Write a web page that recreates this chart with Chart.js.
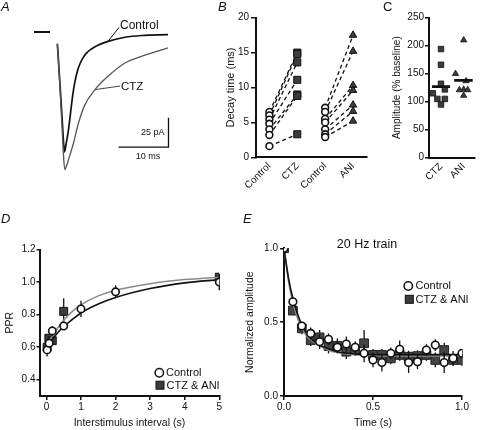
<!DOCTYPE html>
<html><head><meta charset="utf-8">
<script src="https://cdn.jsdelivr.net/npm/chart.js@4.4.1/dist/chart.umd.min.js"></script>
<style>
html,body{margin:0;padding:0;background:#fff;}
#wrap{position:relative;width:480px;height:430px;overflow:hidden;background:#fff;}
#wrap canvas{position:absolute;left:0;top:0;}
</style></head><body>
<div id="wrap">
<canvas id="cA" width="480" height="430"></canvas>
<canvas id="cB" width="480" height="430"></canvas>
<canvas id="cC" width="480" height="430"></canvas>
<canvas id="cD" width="480" height="430"></canvas>
<canvas id="cE" width="480" height="430"></canvas>
</div>
<script>
// ---------- Panel A: example currents (time in ms, amplitude in pA) ----------
const A_time_control = [-0.13, 0.3, 0.8, 1.1, 1.3, 1.55, 2.1, 2.7, 3.0, 3.4, 3.9, 4.4, 5.0, 5.7, 6.5, 7.4, 8.5, 10, 13.4, 16.7, 22];
const A_amp_control  = [-10, -38, -72, -93, -102, -97, -83, -62, -52, -42, -33, -27, -22, -18, -15, -12.5, -10.3, -8, -4.5, -3, -2.3];
const A_time_ctz = [-0.13, 0.3, 0.8, 1.1, 1.35, 1.7, 2.1, 3.1, 4.1, 5.4, 7.4, 10, 13.4, 16.7, 22];
const A_amp_ctz  = [-10, -40, -80, -105, -117, -114, -108.6, -94.4, -77.4, -61.8, -49, -37.7, -26.4, -20.7, -13.6];
const A_baseline_time = [-4.8, -1.6];
const A_baseline_amp = [0, 0];
const A_scale_ms = 10;
const A_scale_pA = 25;

// ---------- Panel B: decay time (ms) ----------
const B_categories = ['Control', 'CTZ', 'Control', 'ANI'];
const B_ctz_control = [6.5, 6.0, 5.4, 4.8, 4.0, 3.2, 1.6];
const B_ctz_treated = [15.0, 14.8, 13.6, 11.1, 9.0, 8.8, 3.3];
const B_ani_control = [7.1, 6.5, 5.5, 5.0, 4.0, 3.3, 2.9];
const B_ani_treated = [17.5, 15.2, 10.3, 9.6, 7.5, 6.6, 5.2];
const B_yTicks = [0, 5, 10, 15, 20];

// ---------- Panel C: amplitude (% baseline) ----------
const C_categories = ['CTZ', 'ANI'];
const C_ctz = [194, 166, 132, 122, 115, 105, 105, 95];
const C_ctz_jitter = [0, 0, 0, 0.17, -0.36, -0.16, 0.17, 0];
const C_ani = [210, 150, 137, 122, 121, 121, 111];
const C_ani_jitter = [0, -0.36, 0.11, 0, -0.19, 0.18, 0];
const C_means = [127, 138];
const C_yTicks = [0, 50, 100, 150, 200, 250];

// ---------- Panel D: paired-pulse ratio ----------
const D_control_x = [0.02, 0.08, 0.17, 0.5, 1, 2, 5];
const D_control_y = [0.583, 0.624, 0.70, 0.73, 0.835, 0.94, 1.0];
const D_control_err = [0.04, 0.02, 0.03, 0.02, 0.05, 0.04, 0.05];
const D_treated_x = [0.02, 0.07, 0.17, 0.5, 5];
const D_treated_y = [0.60, 0.655, 0.64, 0.82, 1.03];
const D_treated_err = [0.02, 0.02, 0.02, 0.08, 0.02];
const D_fit_control_x = [0.02, 0.1, 0.2, 0.35, 0.5, 0.75, 1, 1.5, 2, 3, 4, 5];
const D_fit_control_y = [0.58, 0.62, 0.655, 0.695, 0.725, 0.77, 0.81, 0.865, 0.905, 0.96, 0.995, 1.015];
const D_fit_treated_x = [0.1, 0.2, 0.35, 0.5, 0.75, 1, 1.5, 2, 3, 4, 5];
const D_fit_treated_y = [0.64, 0.68, 0.725, 0.765, 0.82, 0.86, 0.915, 0.95, 0.99, 1.015, 1.03];
const D_xTicks = [0, 1, 2, 3, 4, 5];
const D_yTicks = [0.4, 0.6, 0.8, 1.0, 1.2];

// ---------- Panel E: 20 Hz train ----------
const E_time = [0, 0.05, 0.1, 0.15, 0.2, 0.25, 0.3, 0.35, 0.4, 0.45, 0.5, 0.55, 0.6, 0.65, 0.7, 0.75, 0.8, 0.85, 0.9, 0.95, 1.0];
const E_control = [1.0, 0.638, 0.474, 0.424, 0.368, 0.384, 0.33, 0.352, 0.33, 0.289, 0.244, 0.226, 0.289, 0.316, 0.226, 0.232, 0.311, 0.345, 0.226, 0.255, 0.289];
const E_control_err = [0, 0.03, 0.03, 0.04, 0.05, 0.04, 0.04, 0.05, 0.04, 0.06, 0.05, 0.06, 0.04, 0.06, 0.07, 0.05, 0.04, 0.04, 0.07, 0.05, 0.03];
const E_treated = [1.0, 0.578, 0.458, 0.379, 0.397, 0.338, 0.34, 0.30, 0.31, 0.357, 0.278, 0.278, 0.255, 0.278, 0.266, 0.27, 0.278, 0.244, 0.311, 0.244, 0.244];
const E_treated_err = [0, 0.03, 0.04, 0.04, 0.05, 0.05, 0.05, 0.05, 0.04, 0.09, 0.04, 0.04, 0.04, 0.04, 0.04, 0.04, 0.04, 0.05, 0.05, 0.04, 0.04];
const E_fit_x = [0, 0.025, 0.05, 0.075, 0.1, 0.125, 0.15, 0.2, 0.25, 0.3, 0.4, 0.5, 0.6, 0.8, 1.0];
const E_fit_control = [1.0, 0.80, 0.66, 0.56, 0.48, 0.43, 0.39, 0.345, 0.32, 0.30, 0.285, 0.28, 0.28, 0.28, 0.28];
const E_fit_treated = [1.0, 0.78, 0.63, 0.53, 0.46, 0.41, 0.38, 0.34, 0.31, 0.295, 0.28, 0.275, 0.27, 0.27, 0.27];
const E_ticks = [0, 0.5, 1.0];

// ---------- shared setup ----------
const FONT = "'Liberation Sans', Arial, Helvetica, sans-serif";
Chart.defaults.font.family = FONT;
Chart.defaults.color = '#111';
Chart.defaults.animation = false;
Chart.defaults.plugins.legend.display = false;
Chart.defaults.plugins.tooltip.enabled = false;
const INK = '#111';
const SQ = '#3c3c3c';

const pts = (xs, ys) => xs.map((x, i) => ({x: x, y: ys[i]}));
const fixTicks = vals => (s => { s.ticks = vals.map(v => ({value: v})); });

function axis(o) {
  return {
    type: 'linear', position: o.pos, min: o.min, max: o.max,
    afterBuildTicks: fixTicks(o.ticks),
    afterFit: s => { if (o.pos === 'left') s.width = o.size; else s.height = o.size; },
    border: {display: true, color: INK, width: 2},
    grid: {display: true, drawOnChartArea: false, drawTicks: o.drawTicks !== false, tickLength: o.tickLen || 4, color: INK, lineWidth: 1.5},
    ticks: {font: {size: o.tickSize || 10}, color: INK, padding: o.pad == null ? 2 : o.pad, callback: o.fmt,
            maxRotation: o.rot || 0, minRotation: o.rot || 0, autoSkip: false},
    title: o.title ? {display: true, text: o.title, font: {size: o.titleSize || 10.5}, color: INK, padding: 0} : {display: false}
  };
}

const errPlugin = {
  id: 'errbars',
  beforeDatasetDraw(chart, args) {
    const ds = chart.data.datasets[args.index];
    if (!ds.errs) return;
    const ctx = chart.ctx, y = chart.scales.y;
    ctx.save();
    ctx.strokeStyle = ds.errColor || INK;
    ctx.lineWidth = 1.3;
    args.meta.data.forEach((pt, i) => {
      const e = ds.errs[i];
      if (!e) return;
      const v = ds.data[i].y;
      ctx.beginPath();
      ctx.moveTo(pt.x, y.getPixelForValue(v - e));
      ctx.lineTo(pt.x, y.getPixelForValue(v + e));
      ctx.stroke();
    });
    ctx.restore();
  }
};

function text(ctx, s, x, y, size, align, italic) {
  ctx.save();
  ctx.font = (italic ? 'italic ' : '') + size + 'px ' + FONT;
  ctx.fillStyle = INK;
  ctx.textAlign = align || 'left';
  ctx.textBaseline = 'middle';
  ctx.fillText(s, x, y);
  ctx.restore();
}
function legendCircle(ctx, x, y, r) {
  ctx.save(); ctx.beginPath(); ctx.arc(x, y, r, 0, Math.PI * 2);
  ctx.fillStyle = '#fff'; ctx.fill(); ctx.lineWidth = 1.5; ctx.strokeStyle = INK; ctx.stroke(); ctx.restore();
}
function legendSquare(ctx, x, y, h) {
  ctx.save(); ctx.fillStyle = SQ; ctx.fillRect(x - h, y - h, 2 * h, 2 * h);
  ctx.lineWidth = 1; ctx.strokeStyle = INK; ctx.strokeRect(x - h, y - h, 2 * h, 2 * h); ctx.restore();
}

// ---------- Chart A ----------
new Chart(document.getElementById('cA'), {
  type: 'scatter',
  data: {datasets: [
    {data: pts(A_time_ctz, A_amp_ctz), showLine: true, borderColor: '#555', borderWidth: 1.3, pointRadius: 0, cubicInterpolationMode: 'monotone'},
    {data: pts(A_time_control, A_amp_control), showLine: true, borderColor: INK, borderWidth: 1.7, pointRadius: 0, cubicInterpolationMode: 'monotone'},
    {data: pts(A_baseline_time, A_baseline_amp), showLine: true, borderColor: INK, borderWidth: 2, pointRadius: 0}
  ]},
  options: {
    responsive: false,
    layout: {padding: {left: 30, right: 305, top: 20, bottom: 250}},
    scales: {x: {type: 'linear', display: false, min: -5.6, max: 23.4}, y: {type: 'linear', display: false, min: -125.9, max: 10.2}}
  },
  plugins: [{
    id: 'decorA',
    afterDraw(chart) {
      const ctx = chart.ctx, sx = chart.scales.x, sy = chart.scales.y;
      // panel letters
      text(ctx, 'A', 1, 7, 13, 'left', true);
      text(ctx, 'B', 218, 7, 13, 'left', true);
      text(ctx, 'C', 383, 7, 13, 'left', false);
      text(ctx, 'D', 1, 219, 13, 'left', true);
      text(ctx, 'E', 243, 219, 13, 'left', true);
      // labels with leader lines
      ctx.save(); ctx.strokeStyle = INK; ctx.lineWidth = 1;
      const c1x = sx.getPixelForValue(10), c1y = sy.getPixelForValue(-8);
      ctx.beginPath(); ctx.moveTo(c1x, c1y); ctx.lineTo(c1x + 11, c1y - 14); ctx.stroke();
      const c2x = sx.getPixelForValue(7.4), c2y = sy.getPixelForValue(-49);
      ctx.strokeStyle = '#444';
      ctx.beginPath(); ctx.moveTo(c2x, c2y); ctx.lineTo(c2x + 25, c2y - 3.5); ctx.stroke();
      ctx.restore();
      text(ctx, 'Control', c1x + 12, c1y - 16, 12, 'left');
      text(ctx, 'CTZ', c2x + 26, c2y - 3, 11.5, 'left');
      // scale bars
      const bx = sx.getPixelForValue(22.1), by = sy.getPixelForValue(-98);
      const tx = sx.getPixelForValue(22.1 - A_scale_ms), ty = sy.getPixelForValue(-98 + A_scale_pA);
      ctx.save(); ctx.strokeStyle = INK; ctx.lineWidth = 1.3;
      ctx.beginPath(); ctx.moveTo(bx, ty); ctx.lineTo(bx, by); ctx.lineTo(tx, by); ctx.stroke();
      ctx.restore();
      text(ctx, '25 pA', bx - 4, (by + ty) / 2, 9, 'right');
      text(ctx, '10 ms', (bx + tx) / 2 + 4.5, by + 9, 9, 'center');
    }
  }]
});

// ---------- Chart B ----------
const lineDs = d => ({data: d, showLine: true, borderColor: INK, borderWidth: 1.3, borderDash: [4, 3], pointRadius: 0, order: 2});
const B_sets = [];
B_ctz_control.forEach((v, i) => B_sets.push(lineDs([{x: 1, y: v}, {x: 2, y: B_ctz_treated[i]}])));
B_ani_control.forEach((v, i) => B_sets.push(lineDs([{x: 3, y: v}, {x: 4, y: B_ani_treated[i]}])));
B_sets.push({data: B_ctz_treated.map(v => ({x: 2, y: v})), pointStyle: 'rect', pointRadius: 5, pointBackgroundColor: SQ, pointBorderColor: INK, pointBorderWidth: 1, order: 1});
B_sets.push({data: B_ani_treated.map(v => ({x: 4, y: v})), pointStyle: 'triangle', pointRadius: 4.3, pointBackgroundColor: SQ, pointBorderColor: INK, pointBorderWidth: 1, order: 1});
B_sets.push({data: B_ctz_control.map(v => ({x: 1, y: v})), pointStyle: 'circle', pointRadius: 3.4, pointBackgroundColor: '#fff', pointBorderColor: INK, pointBorderWidth: 1.6, order: 0});
B_sets.push({data: B_ani_control.map(v => ({x: 3, y: v})), pointStyle: 'circle', pointRadius: 3.4, pointBackgroundColor: '#fff', pointBorderColor: INK, pointBorderWidth: 1.6, order: 0});

new Chart(document.getElementById('cB'), {
  type: 'scatter',
  data: {datasets: B_sets},
  options: {
    responsive: false,
    layout: {padding: {left: 224, right: 113, top: 17.7, bottom: 232.7}},
    scales: {
      x: axis({pos: 'bottom', min: 0.52, max: 4.5, ticks: [1, 2, 3, 4], fmt: v => B_categories[v - 1], size: 40, drawTicks: false, rot: 45, pad: 3}),
      y: axis({pos: 'left', min: 0, max: 20, ticks: B_yTicks, fmt: v => String(v), size: 32, tickLen: 5, pad: 2, title: 'Decay time (ms)', titleSize: 11})
    }
  }
});

// ---------- Chart C ----------
new Chart(document.getElementById('cC'), {
  type: 'scatter',
  data: {datasets: [
    {data: C_ctz.map((v, i) => ({x: 1 + C_ctz_jitter[i], y: v})), pointStyle: 'rect', pointRadius: 3.9, pointBackgroundColor: SQ, pointBorderColor: INK, pointBorderWidth: 0.8, order: 2},
    {data: C_ani.map((v, i) => ({x: 2 + C_ani_jitter[i], y: v})), pointStyle: 'triangle', pointRadius: 3.6, pointBackgroundColor: SQ, pointBorderColor: INK, pointBorderWidth: 0.8, order: 2},
    {data: [{x: 0.6, y: C_means[0]}, {x: 1.4, y: C_means[0]}], showLine: true, borderColor: INK, borderWidth: 2.6, pointRadius: 0, order: 1},
    {data: [{x: 1.58, y: C_means[1]}, {x: 2.4, y: C_means[1]}], showLine: true, borderColor: INK, borderWidth: 2.6, pointRadius: 0, order: 1}
  ]},
  options: {
    responsive: false,
    layout: {padding: {left: 391.7, right: 0, top: 17.7, bottom: 232.3}},
    scales: {
      x: axis({pos: 'bottom', min: 0.47, max: 2.51, ticks: [1, 2], fmt: v => C_categories[v - 1], size: 40, drawTicks: false, rot: 45, pad: 3}),
      y: axis({pos: 'left', min: 0, max: 250, ticks: C_yTicks, fmt: v => String(v), size: 37.3, tickLen: 4, pad: 1, title: 'Amplitude (% baseline)', titleSize: 10})
    }
  }
});

// ---------- Chart D ----------
new Chart(document.getElementById('cD'), {
  type: 'scatter',
  data: {datasets: [
    {data: pts(D_treated_x, D_treated_y), errs: D_treated_err, pointStyle: 'rect', pointRadius: 5.6, pointBackgroundColor: SQ, pointBorderColor: INK, pointBorderWidth: 1, order: 4},
    {data: pts(D_fit_treated_x, D_fit_treated_y), showLine: true, borderColor: '#8a8a8a', borderWidth: 1.5, pointRadius: 0, cubicInterpolationMode: 'monotone', order: 3},
    {data: pts(D_fit_control_x, D_fit_control_y), showLine: true, borderColor: INK, borderWidth: 1.6, pointRadius: 0, cubicInterpolationMode: 'monotone', order: 2},
    {data: pts(D_control_x, D_control_y), errs: D_control_err, pointStyle: 'circle', pointRadius: 3.7, pointBackgroundColor: '#fff', pointBorderColor: INK, pointBorderWidth: 1.6, order: 1}
  ]},
  options: {
    responsive: false,
    layout: {padding: {left: 3.7, right: 260.7, top: 249.5, bottom: 0.4}},
    scales: {
      x: axis({pos: 'bottom', min: -0.2, max: 5, ticks: D_xTicks, fmt: v => String(v), size: 33.6, tickLen: 4, pad: 1.5, title: 'Interstimulus interval (s)'}),
      y: axis({pos: 'left', min: 0.3, max: 1.2, ticks: D_yTicks, fmt: v => v.toFixed(1), size: 35.8, tickLen: 3, pad: 1, title: 'PPR'})
    }
  },
  plugins: [errPlugin, {
    id: 'decorD',
    afterDraw(chart) {
      const ctx = chart.ctx;
      legendCircle(ctx, 159.3, 372.7, 4.2);
      legendSquare(ctx, 160, 385.2, 4);
      text(ctx, 'Control', 166, 373, 11, 'left');
      text(ctx, 'CTZ & ANI', 166.5, 385.5, 11, 'left');
    }
  }]
});

// ---------- Chart E ----------
new Chart(document.getElementById('cE'), {
  type: 'scatter',
  data: {datasets: [
    {data: pts(E_time, E_treated), errs: E_treated_err, pointStyle: 'rect', pointRadius: 6.2, pointBackgroundColor: '#444', pointBorderColor: '#222', pointBorderWidth: 1, order: 4},
    {data: pts(E_fit_x, E_fit_treated), showLine: true, borderColor: '#8a8a8a', borderWidth: 1.5, pointRadius: 0, cubicInterpolationMode: 'monotone', order: 3},
    {data: pts(E_fit_x, E_fit_control), showLine: true, borderColor: INK, borderWidth: 1.6, pointRadius: 0, cubicInterpolationMode: 'monotone', order: 2},
    {data: pts(E_time, E_control), errs: E_control_err, pointStyle: 'circle', pointRadius: 3.8, pointBackgroundColor: '#fff', pointBorderColor: INK, pointBorderWidth: 1.6, order: 1}
  ]},
  options: {
    responsive: false,
    layout: {padding: {left: 243.7, right: 18, top: 248.3, bottom: 0.4}},
    scales: {
      x: axis({pos: 'bottom', min: 0, max: 1, ticks: E_ticks, fmt: v => v.toFixed(1), size: 33.6, tickLen: 4, pad: 1.5, title: 'Time (s)'}),
      y: axis({pos: 'left', min: 0, max: 1, ticks: E_ticks, fmt: v => v.toFixed(1), size: 40.3, tickLen: 4, pad: 2, title: 'Normalized amplitude'})
    }
  },
  plugins: [errPlugin, {
    id: 'decorE',
    afterDraw(chart) {
      const ctx = chart.ctx;
      text(ctx, '20 Hz train', 367, 245, 12.5, 'center');
      legendCircle(ctx, 408.3, 286, 4.2);
      legendSquare(ctx, 409.3, 299.3, 4);
      text(ctx, 'Control', 415.5, 286.3, 11, 'left');
      text(ctx, 'CTZ & ANI', 415.5, 299.6, 11, 'left');
    }
  }]
});
</script>
</body></html>
